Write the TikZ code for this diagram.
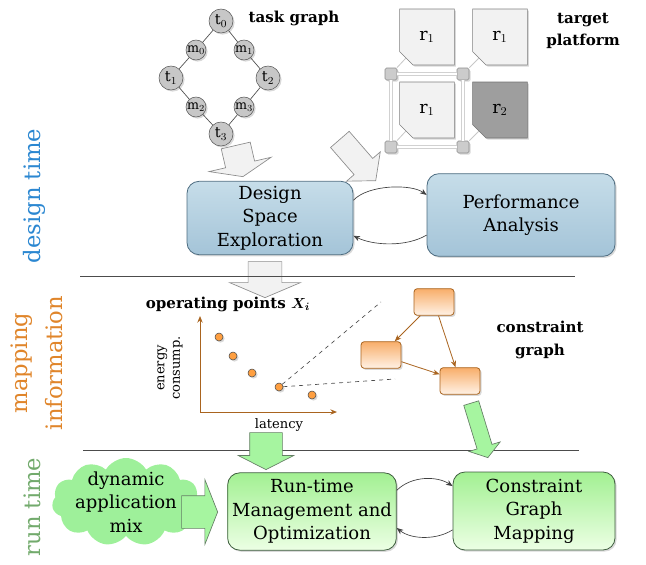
\documentclass[tikz,border=0pt]{standalone}
\usepackage{amsmath}
\usepackage{fontspec}
\setmainfont{DejaVu Serif}
\usepackage{tikz}
\usetikzlibrary{shapes.misc,shapes.arrows,shapes.symbols,shadows,arrows.meta}
\definecolor{dtblue}{HTML}{2B87D1}
\definecolor{maporange}{HTML}{E0852A}
\definecolor{rtgreen}{HTML}{72AA6C}
\definecolor{boxbluetop}{HTML}{C6DDE9}
\definecolor{boxbluelow}{HTML}{A4C4D8}
\definecolor{boxblueline}{HTML}{4D6C80}
\definecolor{boxgreentop}{HTML}{A2F092}
\definecolor{boxgreenlow}{HTML}{ECFFE4}
\definecolor{boxgreenline}{HTML}{3E5E3E}
\definecolor{cgorangetop}{HTML}{F8AE6A}
\definecolor{cgorangelow}{HTML}{FFF2E6}
\definecolor{cgline}{HTML}{A9641F}
\definecolor{arrowgreen}{HTML}{A6F5A0}
\definecolor{cloudgreen}{HTML}{9EF09A}
\colorlet{tilegray}{black!5}
\colorlet{edgegray}{black!70}
\newcommand{\boxfont}{\fontsize{13.5}{17.5}\selectfont}
\newcommand{\labelfont}{\fontsize{11.3}{17}\selectfont\bfseries}
\newcommand{\axisfont}{\fontsize{9.8}{11.5}\selectfont}
\newcommand{\phasefont}{\fontsize{17}{26}\selectfont}
\tikzstyle{softshadow} = [drop shadow={shadow xshift=1.2pt, shadow yshift=-1.2pt, opacity=0.3}]
\tikzstyle{tnode} = [
    circle,
    draw=black!65,
    fill=black!22,
    inner sep=0pt,
    minimum size=18pt,
    font=\fontsize{11}{12}\selectfont,
    softshadow
    ]
\tikzstyle{mnode} = [tnode, minimum size=15pt, font=\fontsize{9.5}{11}\selectfont]
\tikzstyle{tedge} = [draw=edgegray, line width=0.5pt]
\tikzstyle{tile} = [
    chamfered rectangle,
    chamfered rectangle corners=south west,
    chamfered rectangle xsep=10.5pt,
    chamfered rectangle ysep=10.5pt,
    draw=black!50,
    fill=tilegray,
    minimum width=41pt,
    minimum height=42pt,
    inner sep=0pt,
    font=\fontsize{13}{14}\selectfont,
    softshadow
    ]
\tikzstyle{router} = [
    rectangle,
    rounded corners=1.2pt,
    draw=black!45,
    fill=black!20,
    minimum size=9pt,
    inner sep=0pt,
    softshadow
    ]
\tikzstyle{noclink} = [draw=black!18, double=white, double distance=2.2pt, line width=0.6pt]
\tikzstyle{tilelink} = [draw=black!22, line width=0.6pt]
\tikzstyle{phasebox} = [
    rectangle,
    rounded corners=9pt,
    line width=0.6pt,
    align=center,
    font=\boxfont,
    softshadow
    ]
\tikzstyle{dsebox} = [phasebox, draw=boxblueline, top color=boxbluetop, bottom color=boxbluelow]
\tikzstyle{rtbox} = [phasebox, draw=boxgreenline, top color=boxgreentop, bottom color=boxgreenlow]
\tikzstyle{feedback} = [draw=black!75, line width=0.5pt, -{Stealth[length=5pt,width=4pt]}]
\tikzstyle{fatarrow} = [single arrow, anchor=tip, inner xsep=0pt, line width=0.5pt]
\tikzstyle{grayarrow} = [fatarrow, draw=black!45, fill=black!5]
\tikzstyle{greenarrow} = [fatarrow, draw=boxgreenline!80, fill=arrowgreen]
\tikzstyle{rule} = [draw=black!70, line width=0.6pt]
\tikzstyle{axis} = [draw=cgline, line width=0.7pt, -{Stealth[length=5pt,width=4pt]}]
\tikzstyle{opoint} = [circle, draw=black!70, fill=orange!75, inner sep=0pt, minimum size=6pt, softshadow]
\tikzstyle{cgnode} = [
    rectangle,
    rounded corners=2.5pt,
    draw=cgline,
    line width=0.6pt,
    top color=cgorangetop,
    bottom color=cgorangelow,
    minimum width=30pt,
    minimum height=20pt,
    softshadow
    ]
\tikzstyle{cgedge} = [draw=cgline, line width=0.6pt, -{Stealth[length=5pt,width=4pt]}]
\tikzstyle{phase} = [rotate=90, align=center, font=\phasefont]

\begin{document}
\begin{tikzpicture}[x=0.75pt,y=-0.75pt]
\useasboundingbox (0,0) rectangle (646,564);

% task graph
\node[tnode] (t0) at (221,21) {$\mathrm{t}_0$};
\node[mnode] (m0) at (196,50) {$\mathrm{m}_0$};
\node[mnode] (m1) at (244,50) {$\mathrm{m}_1$};
\node[tnode] (t1) at (171,78) {$\mathrm{t}_1$};
\node[tnode] (t2) at (268,78) {$\mathrm{t}_2$};
\node[mnode] (m2) at (196,107) {$\mathrm{m}_2$};
\node[mnode] (m3) at (244,107) {$\mathrm{m}_3$};
\node[tnode] (t3) at (221,134) {$\mathrm{t}_3$};
\draw[tedge] (t0) -- (m0) -- (t1) -- (m2) -- (t3) -- (m3) -- (t2) -- (m1) -- (t0);
\node[font=\labelfont] (tglabel) at (294,18) {task graph};

% target platform
\node[router] (rt1) at (391,74) {};
\node[router] (rt2) at (463,74) {};
\node[router] (rt3) at (391,147) {};
\node[router] (rt4) at (463,147) {};
\draw[noclink] (rt1) -- (rt2);
\draw[noclink] (rt1) -- (rt3);
\draw[noclink] (rt2) -- (rt4);
\draw[noclink] (rt3) -- (rt4);
\node[tile] (tl1) at (427,37) {$\mathrm{r}_1$};
\node[tile] (tl2) at (500,37) {$\mathrm{r}_1$};
\node[tile] (tl3) at (427,110) {$\mathrm{r}_1$};
\node[tile, fill=black!38, draw=black!55] (tl4) at (500,110) {$\mathrm{r}_2$};
\draw[tilelink] (rt1) -- (tl1.225);
\draw[tilelink] (rt2) -- (tl2.225);
\draw[tilelink] (rt3) -- (tl3.225);
\draw[tilelink] (rt4) -- (tl4.225);
\node[font=\labelfont, align=center] (tplabel) at (583,31) {target\\platform};

% design time
\node[grayarrow, minimum height=24pt, inner ysep=10.9pt, single arrow head extend=12.75pt,
      single arrow tip angle=137, rotate=-77] (tgarrow) at (243,177) {};
\node[grayarrow, minimum height=41pt, inner ysep=9pt, single arrow head extend=7.5pt,
      single arrow tip angle=100, rotate=-49] (tparrow) at (376,181) {};
\node[dsebox, minimum width=124.5pt, minimum height=55pt] (dse) at (270,218) {Design\\Space\\Exploration};
\node[dsebox, minimum width=141pt, minimum height=62pt] (perf) at (521,215) {Performance\\Analysis};
\draw[feedback] (dse.12) .. controls +(15,-16) and +(-15,-11) .. (perf.168);
\draw[feedback] (perf.192) .. controls +(-20,12) and +(20,10) .. (dse.348);
\node[grayarrow, minimum height=27pt, inner ysep=12.4pt, single arrow head extend=13.9pt,
      single arrow tip angle=134, rotate=-90] (dsearrow) at (265,298) {};

\draw[rule] (80,276) -- (575,276);
\draw[rule] (83,450) -- (579,450);

% mapping information
\node[font=\labelfont] (oplabel) at (228,304) {operating points $\boldsymbol{X_i}$};
\coordinate (orig) at (200,412);
\coordinate (ytop) at (200,316);
\coordinate (xend) at (337,412);
\draw[axis] (orig) -- (ytop);
\draw[axis] (orig) -- (xend);
\node[rotate=90, align=center, font=\axisfont] (ylabel) at (170,368) {energy\\consump.};
\node[font=\axisfont] (xlabel) at (279,425) {latency};
\foreach \i/\px/\py in {1/219/337, 2/233/356, 3/252/373, 4/279/387, 5/312/395}
    \node[opoint] (p\i) at (\px,\py) {};
\coordinate (zoomtop) at (381,302);
\coordinate (zoombot) at (395,379);
\draw[edgegray, dashed, line width=0.5pt] (p4) -- (zoomtop);
\draw[edgegray, dashed, line width=0.5pt] (p4) -- (zoombot);

\node[cgnode] (ca) at (434,302) {};
\node[cgnode] (cb) at (381,355) {};
\node[cgnode] (cc) at (460,381) {};
\draw[cgedge] (ca) -- (cb);
\draw[cgedge] (ca) -- (cc);
\draw[cgedge] (cb) -- (cc);
\node[font=\labelfont, align=center] (cglabel) at (540,340) {constraint\\graph};

\node[greenarrow, minimum height=27.75pt, inner ysep=12pt, single arrow head extend=8.6pt,
      single arrow tip angle=126, rotate=-90] (oparrow) at (266,470) {};
\node[greenarrow, minimum height=42.75pt, inner ysep=5.6pt, single arrow head extend=6.4pt,
      single arrow tip angle=110, rotate=-73] (cgarrow) at (488,458) {};

% run time
\node[cloud, cloud puffs=11, cloud puff arc=120, cloud ignores aspect, fill=cloudgreen,
      minimum width=111pt, minimum height=66pt, inner xsep=-12pt, inner ysep=-10pt,
      align=center, font=\boxfont] (mix) at (126,502) {dynamic\\application\\mix};
\node[greenarrow, minimum height=27pt, inner ysep=12pt, single arrow head extend=12pt,
      single arrow tip angle=137] (mixarrow) at (218,512) {};
\node[rtbox, minimum width=126pt, minimum height=58pt] (rtm) at (312,511.5) {Run-time\\Management and\\Optimization};
\node[rtbox, minimum width=121.5pt, minimum height=58.5pt] (cgm) at (534,511) {Constraint\\Graph\\Mapping};
\draw[feedback] (rtm.14) .. controls +(15,-15) and +(-15,-10) .. (cgm.163);
\draw[feedback] (cgm.193) .. controls +(-15,10) and +(15,12) .. (rtm.349);

% phases
\node[phase, text=dtblue] (dtlabel) at (34,196) {design time};
\node[phase, text=maporange] (milabel) at (37,363) {mapping\\information};
\node[phase, text=rtgreen] (rtlabel) at (32,507) {run time};
\end{tikzpicture}
\end{document}
